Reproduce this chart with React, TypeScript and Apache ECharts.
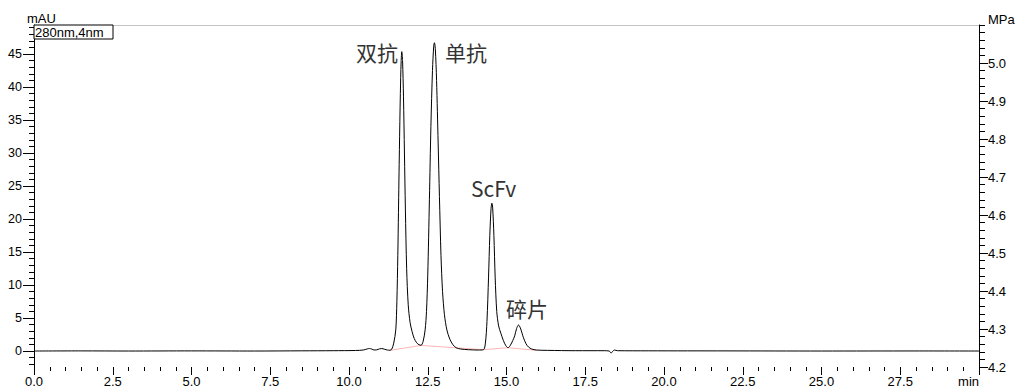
import React, { useEffect, useRef } from "react";
import * as echarts from "echarts";

// Chromatogram trace (time in min, absorbance in mAU)
const times = [
  0, 1.5, 3, 5, 7, 8.5, 9.5, 10.2, 10.45, 10.58, 10.65, 10.72, 10.8, 10.88, 10.97, 11.04, 11.12, 11.22,
  11.3, 11.36, 11.42, 11.485, 11.52, 11.55, 11.57, 11.6, 11.63, 11.655, 11.676, 11.7, 11.73, 11.76, 11.79,
  11.83, 11.88, 11.94, 12.0, 12.07, 12.15, 12.22, 12.29, 12.35, 12.417, 12.46, 12.5, 12.553, 12.6, 12.65,
  12.69, 12.712, 12.74, 12.78, 12.83, 12.871, 12.92, 12.97, 13.03, 13.107, 13.2, 13.3, 13.4, 13.55, 13.8,
  14.1, 14.27, 14.33, 14.38, 14.43, 14.47, 14.51, 14.537, 14.56, 14.6, 14.64, 14.69, 14.75, 14.82, 14.9,
  14.98, 15.05, 15.12, 15.2, 15.26, 15.32, 15.38, 15.44, 15.5, 15.54, 15.62, 15.7, 15.8, 15.95, 16.3, 17.2,
  18.1, 18.26, 18.32, 18.38, 18.43, 18.52, 19.5, 22, 25, 28, 30,
];
const absorbance = [
  0, 0.02, 0, 0.02, 0, 0.03, 0.05, 0.08, 0.15, 0.32, 0.38, 0.3, 0.15, 0.18, 0.33, 0.38, 0.28, 0.15,
  0.12, 0.3, 1.2, 3.2, 7.5, 14.5, 21, 30.5, 39, 43.8, 45.35, 44, 38.5, 30, 21.5,
  12.5, 7, 4.3, 3.0, 1.9, 1.25, 0.95, 0.88, 1.4, 3.2, 6, 11.5, 23, 34, 42.5,
  46.2, 46.7, 45.8, 41, 31.5, 23.4, 14.5, 9, 5.5, 3.2, 1.8, 0.95, 0.5, 0.3, 0.2,
  0.15, 0.2, 1.2, 4.5, 11.2, 17.5, 21.6, 22.4, 21.8, 17.5, 11.2, 6, 3.8, 2.7, 1.6,
  0.8, 0.5, 0.85, 1.6, 2.3, 3.4, 3.94, 3.5, 2.6, 2.0, 1.1, 0.6, 0.3, 0.15, 0.1, 0.05,
  0.05, 0.0, -0.3, 0.0, 0.15, 0.05, 0.03, 0.02, 0, 0.01, 0,
];

// Integration baseline (red)
const baselineTimes = [11.3, 12.29, 14.27, 15.05, 15.97];
const baselineValues = [0.1, 0.85, 0.2, 0.5, 0.1];

// Axes
const xMin = 0;
const xMax = 30;
const xInterval = 2.5;
const leftMin = -2.42;
const leftMax = 49.39;
const leftTicks = [0, 5, 10, 15, 20, 25, 30, 35, 40, 45];
const leftMinorTicks = Array.from({ length: 52 }, (_, i) => i - 2);
const rightMin = 4.2;
const rightMax = 5.1;
const rightTicks = [4.2, 4.3, 4.4, 4.5, 4.6, 4.7, 4.8, 4.9, 5.0];
const rightMinorTicks = Array.from({ length: 46 }, (_, i) => Math.round((4.2 + i * 0.02) * 100) / 100);

const peakNames = ["双抗", "单抗", "ScFv", "碎片"];
const legendText = "280nm,4nm";
const leftUnit = "mAU";
const rightUnit = "MPa";
const xUnit = "min";

const LATIN = "'Liberation Sans', Arial, sans-serif";
const CJK = "'Noto Sans CJK SC', 'Noto Sans', sans-serif";

export default function App() {
  const ref = useRef<HTMLDivElement>(null);
  useEffect(() => {
    if (!ref.current) return;
    const chart = echarts.init(ref.current, null, { renderer: "svg" });
    const trace = times.map((t, i) => [t, absorbance[i]]);
    const base = baselineTimes.map((t, i) => [t, baselineValues[i]]);
    const labelStyle = { color: "#000", fontFamily: LATIN, fontSize: 13 };
    chart.setOption({
      animation: false,
      backgroundColor: "#fff",
      grid: { left: 34, right: 39, top: 25, bottom: 22, containLabel: false },
      xAxis: [
        {
          type: "value",
          min: xMin,
          max: xMax,
          interval: xInterval,
          position: "bottom",
          axisLine: { show: false, onZero: false },
          axisTick: { show: true, length: 8, lineStyle: { color: "#000" } },
          minorTick: { show: true, splitNumber: 5, length: 4, lineStyle: { color: "#000" } },
          splitLine: { show: false },
          axisLabel: {
            ...labelStyle,
            margin: 8,
            alignMaxLabel: "right",
            formatter: (v: number) => (v === xMax ? xUnit : v.toFixed(1)),
          },
        },
        {
          type: "value",
          min: xMin,
          max: xMax,
          position: "top",
          axisLine: { show: true, onZero: false, lineStyle: { color: "#c4c4c4", width: 1 } },
          axisTick: { show: false },
          axisLabel: { show: false },
          splitLine: { show: false },
        },
      ],
      yAxis: [
        {
          type: "value",
          min: leftMin,
          max: leftMax,
          position: "left",
          axisLine: { show: true, onZero: false, lineStyle: { color: "#000" } },
          axisTick: { show: true, length: 11, customValues: leftTicks, lineStyle: { color: "#000" } },
          axisLabel: { ...labelStyle, fontSize: 12.5, margin: 12, customValues: leftTicks },
          splitLine: { show: false },
        },
        {
          type: "value",
          min: leftMin,
          max: leftMax,
          position: "left",
          offset: 0,
          axisLine: { show: false, onZero: false },
          axisTick: { show: true, length: 5, customValues: leftMinorTicks, lineStyle: { color: "#000" } },
          axisLabel: { show: false },
          splitLine: { show: false },
        },
        {
          type: "value",
          min: rightMin,
          max: rightMax,
          position: "right",
          axisLine: { show: true, onZero: false, lineStyle: { color: "#000" } },
          axisTick: { show: true, length: 9, customValues: rightTicks, lineStyle: { color: "#000" } },
          axisLabel: {
            ...labelStyle,
            margin: 9,
            customValues: rightTicks,
            formatter: (v: number) => v.toFixed(1),
          },
          splitLine: { show: false },
        },
        {
          type: "value",
          min: rightMin,
          max: rightMax,
          position: "right",
          offset: 0,
          axisLine: { show: false, onZero: false },
          axisTick: { show: true, length: 6, customValues: rightMinorTicks, lineStyle: { color: "#000" } },
          axisLabel: { show: false },
          splitLine: { show: false },
        },
      ],
      series: [
        {
          type: "line",
          name: "baseline",
          data: base,
          xAxisIndex: 0,
          yAxisIndex: 0,
          symbol: "none",
          lineStyle: { color: "#ffb4b4", width: 1 },
          z: 2,
        },
        {
          type: "line",
          name: "280nm,4nm",
          data: trace,
          xAxisIndex: 0,
          yAxisIndex: 0,
          symbol: "none",
          smooth: 0.3,
          lineStyle: { color: "#000", width: 1 },
          z: 3,
        },
      ],
      graphic: [
        {
          type: "rect",
          shape: { x: 34, y: 25, width: 79, height: 14 },
          style: { fill: "#fff", stroke: "#000", lineWidth: 1 },
          z: 10,
        },
        {
          type: "text",
          x: 35,
          y: 32.5,
          style: { text: legendText, fontFamily: LATIN, fontSize: 13, fill: "#000", verticalAlign: "middle", align: "left" },
          z: 11,
        },
        {
          type: "text",
          x: 27,
          y: 18.5,
          style: { text: leftUnit, fontFamily: LATIN, fontSize: 13, fill: "#000", verticalAlign: "middle", align: "left" },
        },
        {
          type: "text",
          x: 988,
          y: 19.5,
          style: { text: rightUnit, fontFamily: LATIN, fontSize: 13, fill: "#000", verticalAlign: "middle", align: "left" },
        },
        {
          type: "text",
          x: 356,
          y: 52,
          style: { text: peakNames[0], fontFamily: CJK, fontSize: 21, fill: "#333", verticalAlign: "middle", align: "left" },
        },
        {
          type: "text",
          x: 445,
          y: 52,
          style: { text: peakNames[1], fontFamily: CJK, fontSize: 21, fill: "#333", verticalAlign: "middle", align: "left" },
        },
        {
          type: "text",
          x: 471,
          y: 188,
          style: { text: peakNames[2], fontFamily: CJK, fontSize: 21, fill: "#333", verticalAlign: "middle", align: "left" },
        },
        {
          type: "text",
          x: 506,
          y: 308,
          style: { text: peakNames[3], fontFamily: CJK, fontSize: 21, fill: "#333", verticalAlign: "middle", align: "left" },
        },
      ],
    });
    return () => chart.dispose();
  }, []);
  return (
    <div
      ref={ref}
      style={{ position: "fixed", left: 0, top: 0, width: 1018, height: 389, background: "#fff" }}
    />
  );
}
